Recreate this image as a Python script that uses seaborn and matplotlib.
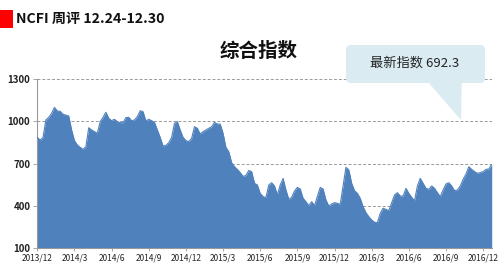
import matplotlib
matplotlib.use("Agg")
import matplotlib.pyplot as plt
import seaborn as sns
import numpy as np
import pandas as pd
from matplotlib.patches import FancyBboxPatch, Polygon, Rectangle

# ---- data (weekly NCFI composite index) ----
values = [
    886, 867, 886, 1010, 1029, 1057, 1100, 1074, 1072, 1050,
    1045, 1038, 939, 863, 832, 815, 801, 820, 955, 939,
    927, 915, 998, 1029, 1065, 1022, 1005, 1015, 998, 991,
    991, 1027, 1029, 1005, 1010, 1034, 1076, 1069, 1003, 1015,
    1005, 993, 939, 886, 825, 829, 848, 886, 986, 998,
    939, 886, 863, 856, 879, 962, 951, 910, 927, 939,
    951, 962, 993, 981, 981, 915, 815, 784, 706, 677,
    658, 635, 608, 615, 650, 642, 559, 547, 487, 464,
    457, 547, 563, 540, 476, 547, 594, 511, 445, 459,
    504, 530, 518, 452, 428, 400, 428, 400, 464, 530,
    518, 440, 397, 411, 421, 416, 409, 540, 673, 654,
    559, 506, 487, 452, 392, 350, 321, 298, 281, 278,
    345, 381, 373, 364, 421, 476, 492, 468, 468, 523,
    487, 459, 435, 540, 594, 559, 523, 516, 540, 523,
    492, 464, 511, 554, 563, 540, 506, 511, 540, 587,
    625, 677, 658, 642, 630, 635, 642, 658, 661, 692.3,
]
tick_labels = ["2013/12", "2014/3", "2014/6", "2014/9", "2014/12", "2015/3",
               "2015/6", "2015/9", "2015/12", "2016/3", "2016/6", "2016/9",
               "2016/12"]
yticks = [100, 400, 700, 1000, 1300]
title_text = "NCFI 周评 12.24-12.30"
chart_title = "综合指数"
callout_text = "最新指数 692.3"

df = pd.DataFrame({"week": np.arange(len(values)), "index": values})

sns.set_style("white")
plt.rcParams["font.family"] = ["Noto Sans CJK SC", "DejaVu Sans"]

fig = plt.figure(figsize=(5.0, 2.65), dpi=100)
W, H = 500, 265
ax = fig.add_axes([37.3 / W, 1 - 247.7 / H, (491.7 - 37.3) / W, (247.7 - 79.3) / H])

fill_color = "#4F81BD"
ax.fill_between(df["week"], 100, df["index"], color=fill_color, lw=0, zorder=2)
sns.lineplot(data=df, x="week", y="index", ax=ax, color=fill_color, lw=0.8, zorder=3)

ax.set_xlim(0, len(values) - 1)
ax.set_ylim(100, 1300)
ax.set_yticks(yticks)
ax.set_yticklabels([str(v) for v in yticks], fontsize=7, fontweight="bold", color="#222222")
ax.set_xticks(np.arange(0, 13 * len(tick_labels), 13))
ax.set_xticklabels(tick_labels, fontsize=6, color="#222222")
ax.set_xlabel("")
ax.set_ylabel("")
ax.grid(axis="y", color="#999999", ls=(0, (3, 2)), lw=0.7, zorder=1)
ax.grid(axis="x", visible=False)
for s in ["top", "right"]:
    ax.spines[s].set_visible(False)
for s in ["left", "bottom"]:
    ax.spines[s].set_color("#999999")
    ax.spines[s].set_linewidth(0.8)
ax.tick_params(axis="x", length=2.5, width=0.6, color="#999999", pad=1.5, direction="out", bottom=True)
ax.tick_params(axis="y", length=3, width=0.6, color="#999999", pad=2, left=True)

# overlay for title, callout and header
ov = fig.add_axes([0, 0, 1, 1], zorder=10)
ov.set_xlim(0, W)
ov.set_ylim(H, 0)
ov.axis("off")
ov.patch.set_alpha(0)

ov.add_patch(Rectangle((0, 10), 12.7, 18, color="#FF0000", lw=0))
ov.text(16, 19, title_text, fontsize=10.2, fontweight="bold", va="center", ha="left", color="#111111")
ov.text(258.5, 51.5, chart_title, fontsize=14, fontweight="bold", va="center", ha="center", color="#111111")

box_col = "#DAEBF2"
ov.add_patch(FancyBboxPatch((346, 45), 139, 38, boxstyle="round,pad=0,rounding_size=5",
                            fc=box_col, ec="none", lw=0))
ov.add_patch(Polygon([(428, 82), (461.7, 82), (461, 120)], closed=True, fc=box_col, ec="none"))
ov.text(415, 63, callout_text, fontsize=9.5, va="center", ha="center", color="#222222")

fig.savefig("out.png", dpi=100)
